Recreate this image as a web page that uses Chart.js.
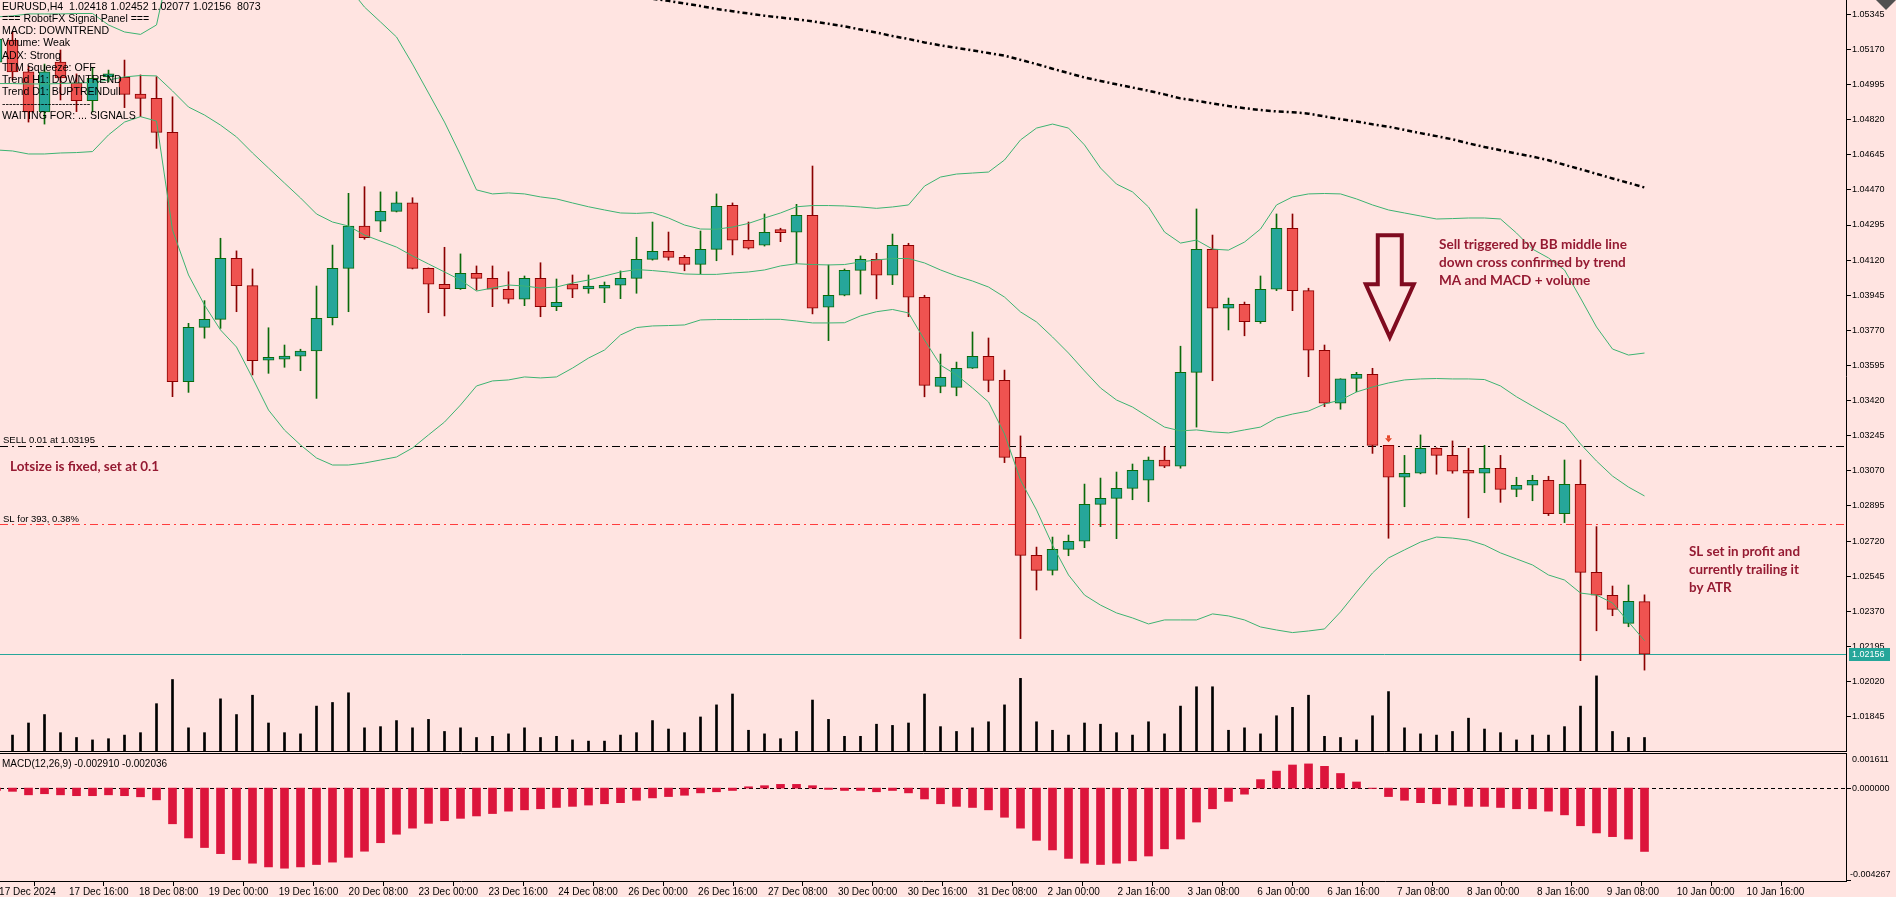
<!DOCTYPE html>
<html>
<head>
<meta charset="utf-8">
<script src="https://cdn.jsdelivr.net/npm/chart.js@4.4.1/dist/chart.umd.min.js"></script>
<style>
  html, body { margin:0; padding:0; background:#FFE4E1; overflow:hidden; }
  #stage { position:relative; width:1896px; height:897px; background:#FFE4E1; }
  #mainChart { position:absolute; left:0; top:0; }
  #macdChart { position:absolute; left:0; top:753px; }
</style>
</head>
<body>
<div id="stage">
  <canvas id="mainChart" width="1896" height="752"></canvas>
  <canvas id="macdChart" width="1896" height="144"></canvas>
</div>
<script>
// ---------------- DATA (bar index -1 .. 102, H4 EURUSD) ----------------
const firstBar = -1;

const open = [
  1.05107, 1.05217, 1.05058, 1.04858, 1.05107, 1.05004, 1.04915, 1.05033, 1.05031, 1.04948, 1.04926,
  1.04757, 1.03514, 1.03785, 1.03825, 1.04129, 1.03993, 1.03621, 1.03626, 1.03642, 1.03667,
  1.03833, 1.04079, 1.04290, 1.04314, 1.04363, 1.04406, 1.04079, 1.04000, 1.03978, 1.04054,
  1.04029, 1.03975, 1.03925, 1.04029, 1.03888, 1.04001, 1.03976, 1.03980, 1.03995, 1.04029,
  1.04124, 1.04164, 1.04134, 1.04099, 1.04174, 1.04393, 1.04219, 1.04194, 1.04260, 1.04259,
  1.04343, 1.03885, 1.03945, 1.04069, 1.04124, 1.04045, 1.04194, 1.03935, 1.03491, 1.03486,
  1.03581, 1.03641, 1.03521, 1.03137, 1.02649, 1.02574, 1.02679, 1.02719, 1.02903, 1.02933,
  1.02983, 1.03023, 1.03123, 1.03093, 1.03561, 1.04174, 1.03880, 1.03900, 1.03813, 1.03975,
  1.04279, 1.03968, 1.03671, 1.03407, 1.03531, 1.03551, 1.03197, 1.03038, 1.03058, 1.03182,
  1.03147, 1.03068, 1.03058, 1.03083, 1.02978, 1.02998, 1.03023, 1.02857, 1.03003, 1.02564,
  1.02450, 1.02310, 1.02418
];
const high = [
  1.05247, 1.05257, 1.05087, 1.05097, 1.05167, 1.05048, 1.05077, 1.05067, 1.05117, 1.05043, 1.05034,
  1.04934, 1.03805, 1.03918, 1.04229, 1.04166, 1.04076, 1.03783, 1.03697, 1.03676, 1.03991,
  1.04195, 1.04453, 1.04486, 1.04460, 1.04460, 1.04431, 1.04081, 1.04184, 1.04151, 1.04091,
  1.04091, 1.04062, 1.04041, 1.04107, 1.04026, 1.04046, 1.04046, 1.04011, 1.04066, 1.04234,
  1.04310, 1.04260, 1.04144, 1.04265, 1.04450, 1.04405, 1.04310, 1.04350, 1.04279, 1.04398,
  1.04589, 1.04096, 1.04076, 1.04141, 1.04154, 1.04250, 1.04204, 1.03945, 1.03652, 1.03612,
  1.03762, 1.03732, 1.03572, 1.03244, 1.02690, 1.02740, 1.02750, 1.03004, 1.03034, 1.03064,
  1.03104, 1.03139, 1.03190, 1.03691, 1.04375, 1.04245, 1.03931, 1.03911, 1.04041, 1.04350,
  1.04350, 1.03980, 1.03697, 1.03529, 1.03561, 1.03581, 1.03197, 1.03147, 1.03249, 1.03185,
  1.03219, 1.03182, 1.03197, 1.03147, 1.03038, 1.03048, 1.03043, 1.03124, 1.03124, 1.02792,
  1.02496, 1.02501, 1.02452
];
const low = [
  1.05087, 1.05018, 1.04808, 1.04798, 1.04918, 1.04860, 1.04858, 1.05008, 1.04880, 1.04835, 1.04677,
  1.03439, 1.03461, 1.03731, 1.03780, 1.03863, 1.03548, 1.03556, 1.03586, 1.03569, 1.03431,
  1.03797, 1.03863, 1.04224, 1.04262, 1.04360, 1.04076, 1.03858, 1.03842, 1.03974, 1.03971,
  1.03888, 1.03905, 1.03893, 1.03838, 1.03868, 1.03933, 1.03955, 1.03908, 1.03928, 1.03955,
  1.04120, 1.04120, 1.04067, 1.04051, 1.04117, 1.04146, 1.04175, 1.04190, 1.04212, 1.04104,
  1.03852, 1.03719, 1.03942, 1.03951, 1.03927, 1.03998, 1.03838, 1.03439, 1.03459, 1.03444,
  1.03580, 1.03464, 1.03111, 1.02234, 1.02476, 1.02551, 1.02647, 1.02687, 1.02792, 1.02732,
  1.02926, 1.02916, 1.03086, 1.03083, 1.03288, 1.03519, 1.03772, 1.03743, 1.03805, 1.03968,
  1.03868, 1.03539, 1.03390, 1.03377, 1.03464, 1.03157, 1.02734, 1.02891, 1.03055, 1.03053,
  1.03058, 1.02836, 1.02961, 1.02913, 1.02941, 1.02921, 1.02847, 1.02812, 1.02124, 1.02273,
  1.02348, 1.02293, 1.02077
];
const close = [
  1.05222, 1.05058, 1.04858, 1.05058, 1.05028, 1.04915, 1.05026, 1.05048, 1.04946, 1.04926, 1.04757,
  1.03514, 1.03785, 1.03825, 1.04129, 1.03993, 1.03619, 1.03624, 1.03642, 1.03667, 1.03830,
  1.04079, 1.04290, 1.04232, 1.04363, 1.04406, 1.04079, 1.04000, 1.03978, 1.04054, 1.04029,
  1.03975, 1.03925, 1.04029, 1.03888, 1.03910, 1.03975, 1.03980, 1.03995, 1.04029, 1.04124,
  1.04164, 1.04134, 1.04099, 1.04174, 1.04388, 1.04219, 1.04179, 1.04259, 1.04257, 1.04343,
  1.03880, 1.03945, 1.04069, 1.04124, 1.04045, 1.04194, 1.03935, 1.03496, 1.03536, 1.03581,
  1.03641, 1.03521, 1.03137, 1.02649, 1.02574, 1.02679, 1.02719, 1.02903, 1.02933, 1.02983,
  1.03073, 1.03123, 1.03093, 1.03561, 1.04174, 1.03880, 1.03900, 1.03813, 1.03975, 1.04279,
  1.03968, 1.03671, 1.03407, 1.03529, 1.03551, 1.03197, 1.03038, 1.03058, 1.03182, 1.03147,
  1.03068, 1.03058, 1.03083, 1.02978, 1.02998, 1.03023, 1.02857, 1.03003, 1.02564, 1.02450,
  1.02380, 1.02420, 1.02156
];
const volume = [
  7000, 9420, 16150, 20860, 10770, 8080, 6730, 7400, 9420, 10770, 26920,
  40380, 13460, 10770, 29610, 20860, 31630, 16150, 10770, 10100, 25570,
  27590, 32980, 13460, 14130, 17500, 13460, 18170, 11440, 13460, 8080,
  8750, 10100, 13460, 8080, 8750, 6730, 6060, 6060, 9420, 10770,
  17500, 12790, 10770, 19520, 26250, 32300, 12110, 10100, 7400, 11440,
  28940, 18170, 8750, 8750, 15480, 14810, 16150, 32300, 14130, 11440,
  13460, 16830, 26250, 41050, 16830, 12110, 9420, 16150, 15480, 10770,
  9420, 16830, 10100, 25570, 36340, 36340, 12110, 13460, 10100, 20190,
  24900, 31630, 8750, 8080, 6730, 20190, 33650, 13460, 10100, 9420,
  11440, 18840, 12790, 10770, 6730, 9420, 9420, 14130, 25570, 42400,
  11440, 8080, 8073
];
const macdHist = [
  -0.00011, -0.00015, -0.00031, -0.00026, -0.00031, -0.00035, -0.00035, -0.00031, -0.00035, -0.00040, -0.00054,
  -0.00164, -0.00229, -0.00273, -0.00301, -0.00329, -0.00345, -0.00362, -0.00368, -0.00362, -0.00351,
  -0.00340, -0.00318, -0.00290, -0.00251, -0.00212, -0.00184, -0.00162, -0.00150, -0.00139, -0.00128,
  -0.00117, -0.00106, -0.00100, -0.00095, -0.00089, -0.00084, -0.00078, -0.00072, -0.00067, -0.00056,
  -0.00045, -0.00039, -0.00033, -0.00022, -0.00017, -0.00011, 0.00006, 0.00011, 0.00017, 0.00017,
  0.00011, -0.00006, -0.00011, -0.00011, -0.00017, -0.00011, -0.00022, -0.00050, -0.00072, -0.00084,
  -0.00089, -0.00100, -0.00134, -0.00184, -0.00240, -0.00284, -0.00323, -0.00345, -0.00351, -0.00345,
  -0.00334, -0.00312, -0.00279, -0.00234, -0.00156, -0.00095, -0.00061, -0.00028, 0.00039, 0.00078,
  0.00106, 0.00111, 0.00100, 0.00067, 0.00028, -0.00002, -0.00039, -0.00056, -0.00067, -0.00072,
  -0.00078, -0.00084, -0.00084, -0.00089, -0.00095, -0.00095, -0.00106, -0.00123, -0.00173, -0.00206,
  -0.00223, -0.00234, -0.00291
];
const macdSignalLast = -0.002036;
const bbUpper = [
  1.05332, 1.05337, 1.05347, 1.05347, 1.05347, 1.05349, 1.05349, 1.05292, 1.05257, 1.05245, 1.05292,
  1.05656, 1.05720, 1.05790, 1.05815, 1.05780, 1.05775, 1.05785, 1.05735, 1.05661, 1.05566,
  1.05521, 1.05481, 1.05381, 1.05307, 1.05232, 1.05097, 1.04953, 1.04808, 1.04644, 1.04470,
  1.04450, 1.04455, 1.04450, 1.04435, 1.04425, 1.04405, 1.04386, 1.04370, 1.04355, 1.04353,
  1.04357, 1.04330, 1.04295, 1.04275, 1.04274, 1.04285, 1.04303, 1.04330, 1.04355, 1.04386,
  1.04392, 1.04392, 1.04390, 1.04385, 1.04378, 1.04385, 1.04395, 1.04489, 1.04534, 1.04549,
  1.04554, 1.04559, 1.04619, 1.04719, 1.04778, 1.04798, 1.04778, 1.04694, 1.04579, 1.04499,
  1.04460, 1.04385, 1.04260, 1.04205, 1.04220, 1.04175, 1.04170, 1.04210, 1.04275, 1.04395,
  1.04435, 1.04450, 1.04452, 1.04450, 1.04425, 1.04395, 1.04370, 1.04355, 1.04340, 1.04325,
  1.04327, 1.04330, 1.04330, 1.04325, 1.04255, 1.04175, 1.04131, 1.04071, 1.03931, 1.03787,
  1.03677, 1.03647, 1.03657
];
const bbMiddle = [
  1.05000, 1.05000, 1.04998, 1.04998, 1.05000, 1.05003, 1.05005, 1.05018, 1.05033, 1.05040, 1.05038,
  1.04963, 1.04883, 1.04843, 1.04793, 1.04734, 1.04654, 1.04579, 1.04504, 1.04430, 1.04350,
  1.04310, 1.04290, 1.04245, 1.04215, 1.04185, 1.04141, 1.04101, 1.04061, 1.04021, 1.03966,
  1.03981, 1.03996, 1.03991, 1.03981, 1.03986, 1.04006, 1.04021, 1.04041, 1.04061, 1.04073,
  1.04068, 1.04061, 1.04051, 1.04049, 1.04049, 1.04056, 1.04061, 1.04071, 1.04091, 1.04102,
  1.04098, 1.04096, 1.04098, 1.04111, 1.04121, 1.04128, 1.04128, 1.04106, 1.04071, 1.04041,
  1.04016, 1.03986, 1.03936, 1.03862, 1.03812, 1.03737, 1.03657, 1.03568, 1.03483, 1.03423,
  1.03388, 1.03338, 1.03288, 1.03269, 1.03274, 1.03264, 1.03259, 1.03274, 1.03288, 1.03333,
  1.03353, 1.03368, 1.03403, 1.03423, 1.03463, 1.03488, 1.03508, 1.03523, 1.03528, 1.03530,
  1.03528, 1.03528, 1.03525, 1.03493, 1.03439, 1.03393, 1.03348, 1.03303, 1.03204, 1.03119,
  1.03044, 1.02989, 1.02945
];
const bbLower = [
  1.04669, 1.04664, 1.04649, 1.04649, 1.04654, 1.04656, 1.04661, 1.04744, 1.04808, 1.04835, 1.04813,
  1.04270, 1.04046, 1.03896, 1.03772, 1.03687, 1.03533, 1.03373, 1.03273, 1.03199, 1.03134,
  1.03099, 1.03099, 1.03109, 1.03124, 1.03139, 1.03184, 1.03249, 1.03313, 1.03398, 1.03493,
  1.03518, 1.03523, 1.03538, 1.03533, 1.03538, 1.03582, 1.03632, 1.03672, 1.03747, 1.03784,
  1.03792, 1.03794, 1.03797, 1.03822, 1.03824, 1.03824, 1.03824, 1.03825, 1.03825, 1.03817,
  1.03807, 1.03807, 1.03808, 1.03842, 1.03863, 1.03874, 1.03857, 1.03722, 1.03597, 1.03548,
  1.03483, 1.03413, 1.03254, 1.03024, 1.02875, 1.02700, 1.02551, 1.02451, 1.02401, 1.02362,
  1.02337, 1.02307, 1.02327, 1.02327, 1.02327, 1.02357, 1.02347, 1.02327, 1.02292, 1.02277,
  1.02264, 1.02272, 1.02282, 1.02367, 1.02466, 1.02561, 1.02636, 1.02676, 1.02715, 1.02740,
  1.02735, 1.02725, 1.02700, 1.02661, 1.02631, 1.02601, 1.02551, 1.02526, 1.02461, 1.02451,
  1.02412, 1.02317, 1.02224
];
const trendMA = [
  null, null, null, null, null, null, null, null, null, null, null,
  null, null, null, null, null, null, null, null, null, null,
  null, null, null, null, null, null, null, null, null, null,
  null, null, null, null, null, null, null, null, null, null,
  1.05422, 1.05412, 1.05399, 1.05386, 1.05372, 1.05360, 1.05349, 1.05338, 1.05329, 1.05320,
  1.05310, 1.05298, 1.05285, 1.05269, 1.05254, 1.05237, 1.05222, 1.05205, 1.05190, 1.05178,
  1.05165, 1.05152, 1.05139, 1.05118, 1.05097, 1.05074, 1.05052, 1.05030, 1.05013, 1.04996,
  1.04980, 1.04964, 1.04946, 1.04926, 1.04914, 1.04901, 1.04888, 1.04877, 1.04868, 1.04861,
  1.04857, 1.04850, 1.04836, 1.04823, 1.04811, 1.04797, 1.04785, 1.04769, 1.04753, 1.04738,
  1.04722, 1.04702, 1.04684, 1.04668, 1.04651, 1.04636, 1.04618, 1.04595, 1.04573, 1.04550,
  1.04527, 1.04505, 1.04482
];

const priceTicks = [1.05345, 1.05170, 1.04995, 1.04820, 1.04645, 1.04470, 1.04295, 1.04120, 1.03945,
  1.03770, 1.03595, 1.03420, 1.03245, 1.03070, 1.02895, 1.02720, 1.02545, 1.02370, 1.02195, 1.02020, 1.01845];
const timeLabels = ['17 Dec 2024', '17 Dec 16:00', '18 Dec 08:00', '19 Dec 00:00', '19 Dec 16:00', '20 Dec 08:00',
  '23 Dec 00:00', '23 Dec 16:00', '24 Dec 08:00', '26 Dec 00:00', '26 Dec 16:00', '27 Dec 08:00',
  '30 Dec 00:00', '30 Dec 16:00', '31 Dec 08:00', '2 Jan 00:00', '2 Jan 16:00', '3 Jan 08:00',
  '6 Jan 00:00', '6 Jan 16:00', '7 Jan 08:00', '8 Jan 00:00', '8 Jan 16:00', '9 Jan 08:00',
  '10 Jan 00:00', '10 Jan 16:00'];
const macdAxisLabels = [0.001611, 0.000000, -0.004267];

const sellPrice = 1.03195;
const slPrice = 1.02804;
const sellBar = 86, sellMarkPrice = 1.03227;
const arrowBar = 86.08, arrowTopPrice = 1.04244, arrowNeckPrice = 1.04000, arrowTipPrice = 1.03736;

const panelLines = [
  `EURUSD,H4  ${open[open.length-1].toFixed(5)} ${high[high.length-1].toFixed(5)} ${low[low.length-1].toFixed(5)} ${close[close.length-1].toFixed(5)}  ${volume[volume.length-1]}`,
  '=== RobotFX Signal Panel ===',
  'MACD: DOWNTREND',
  'Volume: Weak',
  'ADX: Strong',
  'TTM Squeeze: OFF',
  'Trend H1: DOWNTREND',
  'Trend D1: BUPTRENDull',
  '-------------------------',
  'WAITING FOR: ... SIGNALS'
];
const notes = [
  { lines: ['Lotsize is fixed, set at 0.1'], x: 10, y: 471, w: 149 },
  { lines: ['Sell triggered by BB middle line', 'down cross confirmed by trend', 'MA and MACD + volume'], x: 1439, y: 249, w: 188 },
  { lines: ['SL set in profit and', 'currently trailing it', 'by ATR'], x: 1689, y: 556, w: 111 }
];

// ---------------- VIEW / STYLE ----------------
const viewTop = 1.054163, viewBottom = 1.016689;
const xFirst = -0.78125, xLast = 114.59375;
const timeTickStart = -0.8375, timeTickStep = 4.36875;
const volumeCeiling = 418900;
const macdMin = -0.004267, macdMax = 0.001611;

const BULL_FILL = '#26A69A', BULL_EDGE = '#0A6A0A', BEAR_FILL = '#EF5350', BEAR_EDGE = '#8B0000';
const BB_COLOR = '#3CB371';
const FONT = "'Liberation Sans', Arial, sans-serif";
const NOTE_FONT = "Lato, 'Open Sans', sans-serif";
const NOTE_COLOR = '#951A32';

Chart.defaults.font.family = FONT;
Chart.defaults.color = '#000';

const xs = open.map((_, k) => firstBar + k);
const isBull = close.map((c, k) => c >= open[k]);
const edgeCol = isBull.map(b => b ? BULL_EDGE : BEAR_EDGE);
const fillCol = isBull.map(b => b ? BULL_FILL : BEAR_FILL);
const lastPrice = close[close.length - 1];
const timeTicks = timeLabels.map((_, k) => timeTickStart + timeTickStep * k);

function lineDS(arr, color, width, dash) {
  return { type: 'line', data: xs.map((x, k) => ({ x, y: arr[k] })), borderColor: color, borderWidth: width,
    borderDash: dash || [], pointRadius: 0, fill: false, tension: 0, order: 0, spanGaps: false };
}
function hline(ctx, a, py, color, dash) {
  const yy = Math.round(py) + 0.5;
  ctx.strokeStyle = color; ctx.lineWidth = 1; ctx.setLineDash(dash);
  ctx.beginPath(); ctx.moveTo(a.left, yy); ctx.lineTo(a.right, yy); ctx.stroke();
}
function fitSize(ctx, text, target) {
  ctx.font = `bold 100px ${NOTE_FONT}`;
  return 100 * target / ctx.measureText(text).width;
}

const mainDecor = {
  id: 'mainDecor',
  beforeDatasetsDraw(chart) {
    const { ctx, chartArea: a, scales: { y } } = chart;
    ctx.save();
    hline(ctx, a, y.getPixelForValue(sellPrice), '#000', [8, 4, 2, 4]);
    hline(ctx, a, y.getPixelForValue(slPrice), '#FF3C3C', [8, 4, 2, 4]);
    hline(ctx, a, y.getPixelForValue(lastPrice), '#26A69A', []);
    ctx.restore();
  },
  afterDraw(chart) {
    const { ctx, chartArea: a, scales: { x, y } } = chart;
    ctx.save();
    ctx.setLineDash([]);
    ctx.strokeStyle = '#000'; ctx.lineWidth = 1;
    ctx.beginPath(); ctx.moveTo(0, a.bottom - 0.5); ctx.lineTo(a.right + 0.5, a.bottom - 0.5); ctx.stroke();

    // signal panel comment
    ctx.fillStyle = '#000'; ctx.textAlign = 'left'; ctx.textBaseline = 'alphabetic';
    ctx.font = `10.6px ${FONT}`;
    panelLines.forEach((t, k) => ctx.fillText(t, 2, 10 + 12.15 * k));

    // order line labels
    ctx.font = `9.5px ${FONT}`;
    ctx.fillText(`SELL 0.01 at ${sellPrice.toFixed(5)}`, 3, y.getPixelForValue(sellPrice) - 2.5);
    ctx.fillText('SL for 393, 0.38%', 3, y.getPixelForValue(slPrice) - 2.5);

    // annotations
    ctx.fillStyle = NOTE_COLOR;
    notes.forEach(n => {
      const size = fitSize(ctx, n.lines[0], n.w);
      ctx.font = `bold ${size.toFixed(2)}px ${NOTE_FONT}`;
      n.lines.forEach((t, k) => ctx.fillText(t, n.x, n.y + 18 * k));
    });

    // big outlined down arrow
    const cx = x.getPixelForValue(arrowBar);
    const yT = y.getPixelForValue(arrowTopPrice), yN = y.getPixelForValue(arrowNeckPrice), yTip = y.getPixelForValue(arrowTipPrice);
    ctx.beginPath();
    ctx.moveTo(cx - 12, yT); ctx.lineTo(cx + 12, yT); ctx.lineTo(cx + 12, yN); ctx.lineTo(cx + 24, yN);
    ctx.lineTo(cx, yTip); ctx.lineTo(cx - 24, yN); ctx.lineTo(cx - 12, yN); ctx.closePath();
    ctx.lineWidth = 4; ctx.lineJoin = 'miter'; ctx.strokeStyle = '#7F0A1F'; ctx.stroke();

    // small sell marker
    const mx = x.getPixelForValue(sellBar), my = y.getPixelForValue(sellMarkPrice);
    ctx.fillStyle = '#E5472A';
    ctx.fillRect(mx - 1.5, my - 4, 3, 3);
    ctx.beginPath(); ctx.moveTo(mx - 3.5, my - 1); ctx.lineTo(mx + 3.5, my - 1); ctx.lineTo(mx, my + 3); ctx.closePath(); ctx.fill();

    // current price box
    const py = y.getPixelForValue(lastPrice);
    ctx.fillStyle = '#26A69A';
    ctx.fillRect(a.right + 3, Math.round(py) - 6, 41, 13);
    ctx.fillStyle = '#fff'; ctx.font = `9px ${FONT}`; ctx.textBaseline = 'middle';
    ctx.fillText(lastPrice.toFixed(5), a.right + 6, py + 0.5);

    // corner marker
    ctx.fillStyle = '#505050';
    ctx.beginPath(); ctx.moveTo(1886, -12); ctx.lineTo(1897, -1); ctx.lineTo(1886, 10); ctx.lineTo(1875, -1); ctx.closePath(); ctx.fill();
    ctx.restore();
  }
};

new Chart(document.getElementById('mainChart'), {
  type: 'bar',
  data: {
    datasets: [
      lineDS(trendMA, '#000', 2.5, [5, 3, 2, 3]),
      lineDS(bbUpper, BB_COLOR, 1),
      lineDS(bbMiddle, BB_COLOR, 1),
      lineDS(bbLower, BB_COLOR, 1),
      { type: 'bar', data: xs.map((x, k) => ({ x, y: [open[k], close[k]] })), backgroundColor: fillCol, borderColor: edgeCol,
        borderWidth: 1, borderSkipped: false, barThickness: 11, minBarLength: 3, grouped: false, order: 1 },
      { type: 'bar', data: xs.map((x, k) => ({ x, y: [low[k], high[k]] })), backgroundColor: edgeCol,
        borderWidth: 0, barThickness: 1, grouped: false, order: 2 },
      { type: 'bar', yAxisID: 'yv', data: xs.map((x, k) => ({ x, y: volume[k] })), backgroundColor: '#000',
        borderWidth: 0, barThickness: 2, grouped: false, order: 3 }
    ]
  },
  options: {
    responsive: false, animation: false, devicePixelRatio: 1, events: [],
    layout: { padding: 0 },
    plugins: { legend: { display: false }, tooltip: { enabled: false } },
    scales: {
      x: { type: 'linear', display: false, min: xFirst, max: xLast, offset: false },
      y: {
        type: 'linear', position: 'right', min: viewBottom, max: viewTop,
        afterBuildTicks: s => { s.ticks = priceTicks.map(v => ({ value: v })); },
        afterFit: s => { s.width = 50; s.paddingTop = 0; s.paddingBottom = 0; },
        ticks: { callback: v => Number(v).toFixed(5), color: '#000', font: { size: 9 }, padding: 1, autoSkip: false },
        grid: { display: true, drawOnChartArea: false, drawTicks: true, tickLength: 5, color: '#000' },
        border: { display: true, color: '#000' }
      },
      yv: { type: 'linear', display: false, min: 0, max: volumeCeiling }
    }
  },
  plugins: [mainDecor]
});

const macdDecor = {
  id: 'macdDecor',
  beforeDatasetsDraw(chart) {
    const { ctx, chartArea: a, scales: { y } } = chart;
    ctx.save();
    hline(ctx, a, y.getPixelForValue(0), '#000', [4, 3]);
    ctx.restore();
  },
  afterDraw(chart) {
    const { ctx, chartArea: a, scales: { y } } = chart;
    ctx.save();
    ctx.setLineDash([]); ctx.strokeStyle = '#000'; ctx.lineWidth = 1;
    ctx.beginPath(); ctx.moveTo(0, a.top + 0.5); ctx.lineTo(a.right + 0.5, a.top + 0.5); ctx.stroke();
    ctx.fillStyle = '#000'; ctx.textAlign = 'left'; ctx.textBaseline = 'alphabetic';
    ctx.font = `10px ${FONT}`;
    ctx.fillText(`MACD(12,26,9) ${macdHist[macdHist.length - 1].toFixed(6)} ${macdSignalLast.toFixed(6)}`, 2, a.top + 14);
    ctx.font = `9px ${FONT}`; ctx.textBaseline = 'middle';
    const zy = Math.round(y.getPixelForValue(0)) + 0.5;
    ctx.beginPath(); ctx.moveTo(a.right, zy); ctx.lineTo(a.right + 5, zy); ctx.stroke();
    ctx.beginPath(); ctx.moveTo(a.right, a.bottom - 0.5); ctx.lineTo(a.right + 5, a.bottom - 0.5); ctx.stroke();
    ctx.fillText(macdAxisLabels[0].toFixed(6), a.right + 6, a.top + 6.5);
    ctx.fillText(macdAxisLabels[1].toFixed(6), a.right + 6, zy);
    ctx.fillText(macdAxisLabels[2].toFixed(6), a.right + 4, a.bottom - 6);
    ctx.restore();
  }
};

new Chart(document.getElementById('macdChart'), {
  type: 'bar',
  data: {
    datasets: [
      { type: 'bar', data: xs.map((x, k) => ({ x, y: macdHist[k] })), backgroundColor: '#DC143C',
        borderWidth: 0, barThickness: 8, grouped: false }
    ]
  },
  options: {
    responsive: false, animation: false, devicePixelRatio: 1, events: [],
    layout: { padding: 0 },
    plugins: { legend: { display: false }, tooltip: { enabled: false } },
    scales: {
      x: {
        type: 'linear', position: 'bottom', min: xFirst, max: xLast, offset: false,
        afterBuildTicks: s => { s.ticks = timeTicks.map(v => ({ value: v })); },
        afterFit: s => { s.height = 16; s.paddingLeft = 0; s.paddingRight = 0; },
        ticks: { autoSkip: false, maxRotation: 0, minRotation: 0, align: 'start', padding: 0,
          font: { size: 10 }, color: '#000', callback: (v, i) => timeLabels[i] },
        grid: { display: true, drawOnChartArea: false, drawTicks: true, tickLength: 5, color: '#000' },
        border: { display: true, color: '#000' }
      },
      y: {
        type: 'linear', position: 'right', min: macdMin, max: macdMax,
        afterFit: s => { s.width = 50; s.paddingTop = 0; s.paddingBottom = 0; },
        ticks: { display: false },
        grid: { display: false },
        border: { display: true, color: '#000' }
      }
    }
  },
  plugins: [macdDecor]
});
</script>
</body>
</html>
